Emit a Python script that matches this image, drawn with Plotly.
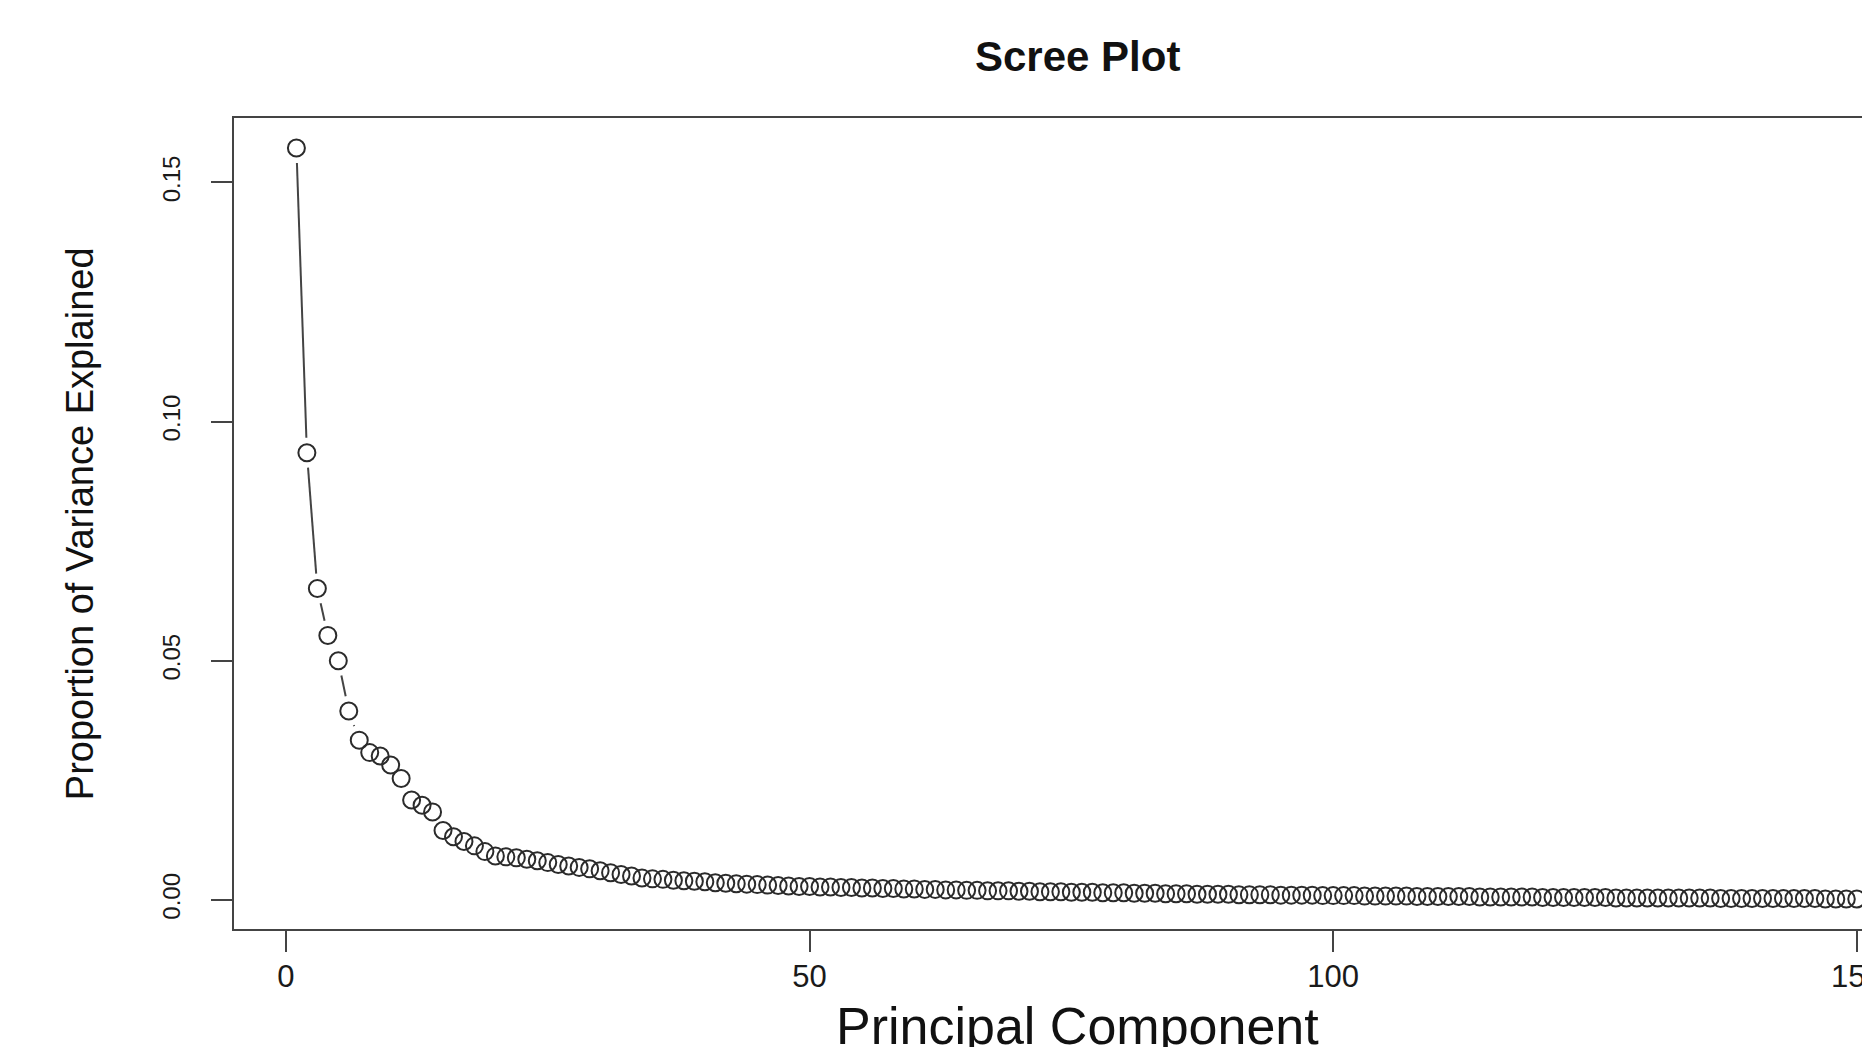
import math
import plotly.graph_objects as go

# ---------------- data ----------------
component = list(range(1, 151))
variance = [
    0.1572, 0.0935, 0.0651, 0.0553, 0.0500, 0.0395, 0.0334, 0.0308, 0.0301, 0.0282,
    0.0254, 0.0209, 0.0198, 0.0184, 0.0145, 0.0132, 0.0122, 0.0113, 0.0101, 0.0092,
    0.0090, 0.0088, 0.0085, 0.0082, 0.0078, 0.0074, 0.0071, 0.0068, 0.0065, 0.0061,
    0.0057, 0.0053, 0.0050, 0.0046, 0.0044, 0.0043, 0.0041, 0.0040, 0.0039, 0.0038,
    0.0036, 0.0035, 0.0034, 0.0033, 0.0032, 0.0031, 0.0030, 0.0029, 0.0028, 0.0028,
    0.0027, 0.0027, 0.0026, 0.0026, 0.0025, 0.0025, 0.0024, 0.0024, 0.0023, 0.0023,
    0.0022, 0.0022, 0.0021, 0.0021, 0.0020, 0.0020, 0.0019, 0.0019, 0.0019, 0.0018,
    0.0018, 0.0017, 0.0017, 0.0017, 0.0016, 0.0016, 0.0016, 0.0015, 0.0015, 0.0015,
    0.0014, 0.0014, 0.0014, 0.0013, 0.0013, 0.0013, 0.0012, 0.0012, 0.0012, 0.0012,
    0.0011, 0.0011, 0.0011, 0.0011, 0.0010, 0.0010, 0.0010, 0.0010, 0.0009, 0.0009,
    0.0009, 0.0009, 0.0008, 0.0008, 0.0008, 0.0008, 0.0008, 0.0007, 0.0007, 0.0007,
    0.0007, 0.0007, 0.0007, 0.0006, 0.0006, 0.0006, 0.0006, 0.0006, 0.0006, 0.0005,
    0.0005, 0.0005, 0.0005, 0.0005, 0.0005, 0.0005, 0.0004, 0.0004, 0.0004, 0.0004,
    0.0004, 0.0004, 0.0004, 0.0004, 0.0004, 0.0004, 0.0003, 0.0003, 0.0003, 0.0003,
    0.0003, 0.0003, 0.0003, 0.0003, 0.0003, 0.0003, 0.0002, 0.0002, 0.0002, 0.0002,
]
x_ticks = [0, 50, 100, 150]
y_ticks = [0.00, 0.05, 0.10, 0.15]
y_tick_labels = ["0.00", "0.05", "0.10", "0.15"]

title_text = "Scree Plot"
x_title = "Principal Component"
y_title = "Proportion of Variance Explained"

# ---------------- layout geometry (page pixels; body margin removed) ----------------
W, H = 1862, 1047
ML, MT = 234, 118
plot_bottom = 928.6
MR = 0
MB = H - plot_bottom
plot_w = W - ML - MR
plot_h = plot_bottom - MT

x_range = [-4.96, 150.5]
vmin, vmax = min(variance), max(variance)
pad = 0.04 * (vmax - vmin)
y_range = [vmin - pad, vmax + pad]

# R type="b": line segments with gaps around each point
px_x = plot_w / (x_range[1] - x_range[0])
px_y = plot_h / (y_range[1] - y_range[0])
gap = 15.0
seg_x, seg_y = [], []
for i in range(len(component) - 1):
    x0, y0 = component[i], variance[i]
    x1, y1 = component[i + 1], variance[i + 1]
    dx = (x1 - x0) * px_x
    dy = (y1 - y0) * px_y
    d = math.hypot(dx, dy)
    if d > 2 * gap:
        f = gap / d
        seg_x += [x0 + (x1 - x0) * f, x1 - (x1 - x0) * f, None]
        seg_y += [y0 + (y1 - y0) * f, y1 - (y1 - y0) * f, None]

INK = "#2b2b2b"
LINE_INK = "#444"
FONT = "Liberation Sans, Arial, Helvetica, sans-serif"


def px_to_paper_x(px):
    return (px - ML) / plot_w


def px_to_paper_y(py):
    return (plot_bottom - py) / plot_h


fig = go.Figure()
fig.add_trace(go.Scatter(
    x=seg_x, y=seg_y, mode="lines",
    line=dict(color=LINE_INK, width=2), hoverinfo="skip", showlegend=False,
))
fig.add_trace(go.Scatter(
    x=component, y=variance, mode="markers",
    marker=dict(symbol="circle-open", size=17, color=INK, line=dict(color=INK, width=2)),
    showlegend=False,
))

x_title_size = 52
y_title_size = 38
title_size = 42

fig.update_layout(
    width=W, height=H, autosize=False,
    margin=dict(l=ML, r=MR, t=MT, b=MB, pad=0, autoexpand=False),
    paper_bgcolor="white", plot_bgcolor="white",
    font=dict(family=FONT, color="#1a1a1a"),
    xaxis=dict(
        range=x_range, showgrid=False, zeroline=False, automargin=False,
        showline=True, linecolor="#444", linewidth=2, mirror=True,
        tickmode="array", tickvals=x_ticks, ticktext=[str(v) for v in x_ticks],
        ticks="outside", ticklen=21, tickwidth=2, tickcolor="#444",
        tickfont=dict(size=31, family=FONT, color="#1a1a1a"),
        ticklabelstandoff=-2, ticklabeloverflow="allow",
    ),
    yaxis=dict(
        range=y_range, showgrid=False, zeroline=False, automargin=False,
        showline=True, linecolor="#444", linewidth=2, mirror=False,
        tickmode="array", tickvals=y_ticks, ticktext=y_tick_labels,
        ticks="outside", ticklen=21, tickwidth=2, tickcolor="#444",
        tickfont=dict(size=24, family=FONT, color="#1a1a1a"),
        tickangle=-90, ticklabelstandoff=21, ticklabeloverflow="allow",
    ),
    annotations=[
        dict(text="<b>" + title_text + "</b>", xref="paper", yref="paper",
             x=px_to_paper_x(1077), y=px_to_paper_y(57),
             xanchor="center", yanchor="middle", showarrow=False,
             font=dict(size=title_size, family=FONT, color="#111")),
        dict(text=x_title, xref="paper", yref="paper",
             x=px_to_paper_x(1077), y=px_to_paper_y(1044 - 0.3465 * x_title_size),
             xanchor="center", yanchor="middle", showarrow=False,
             font=dict(size=x_title_size, family=FONT, color="#111")),
        dict(text=y_title, xref="paper", yref="paper",
             x=px_to_paper_x(80), y=px_to_paper_y(524), textangle=-90,
             xanchor="center", yanchor="middle", showarrow=False,
             font=dict(size=y_title_size, family=FONT, color="#111")),
    ],
)

fig.write_html(
    "out.html",
    config={"responsive": False, "displayModeBar": False},
    post_script=(
        "document.body.style.margin='0';"
        "document.body.style.overflow='hidden';"
        "document.documentElement.style.overflow='hidden';"
    ),
)
